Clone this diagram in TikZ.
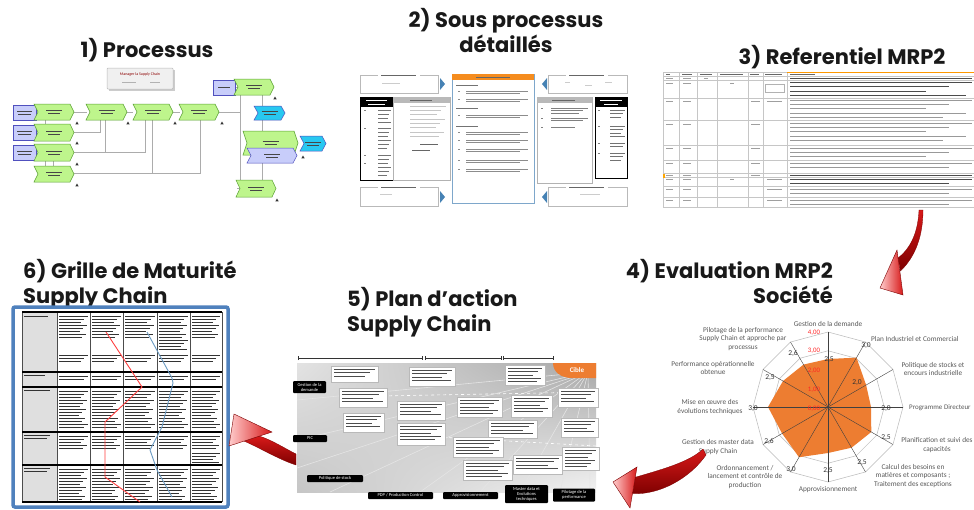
\documentclass[tikz,border=0pt]{standalone}
\usepackage{fontspec}
\setmainfont{Carlito}
\newfontfamily\titlefont{Poppins}
\usetikzlibrary{shadings,arrows.meta}
\definecolor{egreen}{RGB}{190,245,140}
\definecolor{egreenD}{RGB}{90,160,50}
\definecolor{eblue}{RGB}{200,205,250}
\definecolor{eblueD}{RGB}{80,80,190}
\definecolor{ecyan}{RGB}{40,200,240}
\definecolor{frameblue}{RGB}{79,129,189}
\definecolor{steel}{RGB}{70,130,180}
\definecolor{xorange}{RGB}{237,125,49}
\definecolor{aRed}{RGB}{215,25,25}
\definecolor{aDark}{RGB}{125,0,0}
\definecolor{hdr}{RGB}{245,140,30}
\newcommand\txl[6][]{%
  \pgfmathtruncatemacro\nn{max(0,floor(((#5)-(#3))/(#6)))}%
  \foreach \i in {0,...,\nn}{%
    \pgfmathsetmacro\yy{(#3)+\i*(#6)}%
    \pgfmathsetmacro\xe{(#4)-mod(\i*37,11)/11*((#4)-(#2))*0.35}%
    \draw[tbar,#1] ({#2},\yy) -- (\xe,\yy);}}
\newcommand\chev[5]{%
  \path[#1] (#2,#3) -- ({#4-4},#3) -- (#4,{(#3+#5)/2}) -- ({#4-4},#5) -- (#2,#5) -- ({#2+4},{(#3+#5)/2}) -- cycle;
  \draw[gray!55!black, line width=0.3pt] ({(#2+#4)/2-8},{(#3+#5)/2-1.5}) -- ({(#2+#4)/2+8},{(#3+#5)/2-1.5}) ({(#2+#4)/2-6},{(#3+#5)/2+1.5}) -- ({(#2+#4)/2+6},{(#3+#5)/2+1.5});}
\newcommand\warn[2]{\fill[black!80] ({#1-1.6},{#2+1.3}) -- ({#1+1.6},{#2+1.3}) -- (#1,{#2-1.5}) -- cycle;}
\begin{document}
\begin{tikzpicture}[x=1pt,y=-1pt,
  tbar/.style={gray!65, line width=0.6pt},
  ttl/.style={font=\titlefont\bfseries\fontsize{21}{25}\selectfont, inner sep=0pt, text=black!90},
  evt/.style={fill=egreen, draw=egreenD, line width=0.5pt},
  org/.style={fill=eblue, draw=eblueD, line width=0.5pt},
  cyn/.style={fill=ecyan, draw=eblueD, line width=0.5pt},
  wire/.style={draw=gray!65, line width=0.6pt},
  tgrid/.style={draw=gray!45, line width=0.4pt},
  pbox/.style={fill=white, draw=gray!55, line width=0.4pt},
  lbl/.style={fill=black, rounded corners=1pt, text=white, font=\fontsize{4.5}{5}\selectfont, align=center, inner sep=0.5pt},
  cat/.style={font=\fontsize{7.3}{8.6}\selectfont, text=black!65, align=center, inner sep=0pt},
  val/.style={font=\fontsize{7.5}{7.5}\selectfont, text=black!80, inner sep=0pt},
  scl/.style={font=\fontsize{6.8}{7}\selectfont, text=red!85, inner sep=0pt},
]
\useasboundingbox (0,0) rectangle (974,509);
\fill[white] (0,0) rectangle (974,509);

% ---------------- titles
\node[ttl] (t1) at (147,50) {1) Processus};
\node[ttl, align=center] (t2) at (506,30) {2) Sous processus\\détaillés};
\node[ttl] (t3) at (842,57) {3) Referentiel MRP2};
\node[ttl, align=right, anchor=east] (t4) at (833,281) {4) Evaluation MRP2\\Société};
\node[ttl, align=left, anchor=west] (t5) at (347,312) {5) Plan d’action\\Supply Chain};
\node[ttl, align=left, anchor=west] (t6) at (23,284) {6) Grille de Maturité\\Supply Chain};

% ---------------- 1) Processus
\draw[wire] (74,112) -- (87,112) (126,112) -- (133,112) (172,112) -- (180,112) (218,112) -- (240,112);
\draw[wire] (240,87) -- (240,188) (240,87) -- (236,87) (240,188) -- (237,188);
\draw[wire] (74,132) -- (100,132) -- (100,120);
\draw[wire] (74,152) -- (145,152) -- (145,120) (105,120) -- (105,152);
\draw[wire] (74,173) -- (200,173) -- (200,120) (152,120) -- (152,173);
\draw[wire] (45,120) -- (45,125) (45,160) -- (45,167) (53,160) -- (53,167);
\draw[wire] (262,95) -- (262,106) (262,120) -- (262,132) (262,163) -- (262,180);
\draw[fill=gray!40, draw=none] (109,70) rectangle (175,91);
\draw[fill=gray!12, draw=gray!55, line width=0.5pt, rounded corners=1pt] (107,68) rectangle (173,89);
\node[font=\fontsize{4}{4}\selectfont, text=red!55!black, inner sep=0pt] (mgr) at (140,74) {Manager la Supply Chain};
\draw[gray!60, line width=0.5pt] (122,82) -- (136,82) (150,82) -- (160,82);
\foreach \y in {105,125,145}{
  \draw[org] (13,\y) rectangle (36,{\y+15});
  \draw[gray!55!black, line width=0.3pt] (17,{\y+6}) -- (32,{\y+6}) (18,{\y+9}) -- (31,{\y+9});}
\chev{evt}{34}{104}{74}{120}
\chev{evt}{34}{124}{74}{141}
\chev{evt}{34}{144}{74}{161}
\chev{evt}{34}{166}{74}{182}
\chev{evt}{86}{104}{127}{120}
\chev{evt}{133}{104}{173}{120}
\chev{evt}{179}{104}{219}{120}
\draw[org] (213,80) rectangle (235,95);
\draw[gray!55!black, line width=0.3pt] (218,87.5) -- (230,87.5);
\chev{evt}{234}{79}{274}{95}
\chev{cyn}{254}{106}{285}{120}
\chev{evt}{243}{131}{298}{155}
\chev{org}{247}{148}{297}{163}
\chev{cyn}{300}{136}{326}{151}
\chev{evt}{236}{180}{276}{197}
\warn{77}{123}\warn{128}{123}\warn{175}{123}\warn{222}{123}
\warn{77}{143}\warn{77}{164}\warn{77}{185}\warn{275}{98}\warn{303}{157}\warn{277}{200}

% ---------------- 2) Sous processus
\draw[gray!55, line width=0.5pt] (360,75) rectangle (438,93) (548,75) rectangle (627,93)
  (360,187) rectangle (438,206) (548,187) rectangle (627,206);
\foreach \a/\b in {378/75,566/75,378/187,566/187}{
  \fill[white] (\a,{\b-2}) rectangle ({\a+42},{\b+2});
  \draw[black!60, line width=0.6pt] ({\a+3},\b) -- ({\a+38},\b);}
\draw[gray!40, line width=0.5pt] (382,83) -- (400,83) (565,82) -- (570,82) (585,85) -- (592,85) (605,82) -- (612,82)
  (380,194) -- (392,194) (580,194) -- (600,194);
\fill[steel] (440,78) -- (445,84) -- (440,90) -- cycle;
\fill[steel] (440,191) -- (445,197) -- (440,203) -- cycle;
\fill[steel] (547,78) -- (542,84) -- (547,90) -- cycle;
\fill[steel] (547,191) -- (542,197) -- (547,203) -- cycle;
\draw[fill=white, draw=steel!70, line width=0.6pt] (452,74) rectangle (534,203);
\fill[hdr] (452,74) rectangle (534,80);
\draw[black!60, line width=0.5pt] (476,77) -- (510,77);
\foreach \y in {85,108,126}{\draw[black!55, line width=0.5pt] (456,\y) -- (478,\y);}
\foreach \y in {91,99,115,132,140,149,160,169}{
  \draw[black!45, line width=0.4pt] (458,\y) -- (460,\y);
  \txl[black!45, line width=0.4pt]{466}{\y}{528}{\y+2.5}{2.5}}
\draw[black, line width=0.8pt, fill=white] (360,97) rectangle (393,180);
\fill[black] (360,97) rectangle (393,107);
\draw[white, line width=0.5pt] (366,100) -- (387,100) (368,104) -- (385,104);
\foreach \y in {110,128,155,163}{\draw[black!50, line width=0.5pt] (364,\y) -- (366,\y);}
\txl[black!55, line width=0.5pt]{378}{110}{391}{122}{4}
\txl[black!55, line width=0.5pt]{378}{128}{391}{150}{4}
\txl[black!55, line width=0.5pt]{378}{155}{391}{176}{4}
\draw[gray!60, fill=white, line width=0.5pt] (393,97) rectangle (450,180);
\fill[gray!55] (393,97) rectangle (450,103);
\draw[black!60, line width=0.5pt] (410,100) -- (432,100);
\txl[gray!45, line width=0.4pt]{410}{106}{446}{140}{4.3}
\draw[black!60, line width=0.5pt] (420,144) -- (438,144) (412,150) -- (430,150);
\draw[gray!60, fill=white, line width=0.5pt] (537,97) rectangle (592,183);
\fill[gray!55] (537,97) rectangle (592,103);
\draw[black!60, line width=0.5pt] (552,100) -- (575,100);
\foreach \y in {108,118,127}{\draw[black!50, line width=0.4pt] (541,\y) -- (543,\y);}
\txl[black!50, line width=0.4pt]{551}{108}{588}{114}{2.5}
\txl[black!50, line width=0.4pt]{551}{118}{588}{121}{2.5}
\txl[black!50, line width=0.4pt]{551}{127}{575}{127}{2.5}
\draw[black, line width=0.8pt, fill=white] (595,97) rectangle (627,178);
\fill[black] (595,97) rectangle (627,107);
\draw[white, line width=0.5pt] (600,100) -- (622,100) (604,104) -- (618,104);
\foreach \y in {110,126,143,153}{\draw[black!50, line width=0.5pt] (598,\y) -- (600,\y);}
\txl[black!55, line width=0.5pt]{610}{110}{625}{120}{3.5}
\txl[black!55, line width=0.5pt]{610}{126}{625}{138}{3.5}
\txl[black!55, line width=0.5pt]{610}{143}{625}{148}{3.5}
\txl[black!55, line width=0.5pt]{610}{153}{625}{162}{3.5}

% ---------------- 3) Referentiel MRP2
\foreach \x in {663,679,697,717,748,763,787}{\draw[tgrid] (\x,72) -- (\x,207);}
\foreach \y in {72,76,80,98,120,145,160,173,177,186,197,207}{\draw[tgrid] (663,\y) -- (974,\y);}
\draw[orange!80!yellow, line width=0.8pt] (787,72) -- (974,72);
\draw[black!60, line width=0.6pt] (666,74) -- (670,74) (682,74) -- (692,74) (700,74) -- (712,74) (720,74) -- (743,74)
  (750,74) -- (759,74) (765,74) -- (782,74) (790,74) -- (815,74);
\txl[black!70, line width=0.9pt]{790}{78.2}{972}{78.2}{4}
\txl[black!70, line width=0.9pt]{790}{82.5}{972}{96}{4.4}
\txl[gray!80, line width=0.9pt]{790}{100}{972}{118}{4.4}
\txl[gray!80, line width=0.9pt]{790}{123}{972}{143}{4.4}
\txl[gray!80, line width=0.9pt]{790}{148}{972}{158}{4.4}
\txl[gray!80, line width=0.9pt]{790}{163}{972}{171}{4.4}
\txl[black!70, line width=0.9pt]{790}{175}{972}{175}{4}
\txl[black!70, line width=0.9pt]{790}{179}{972}{184}{4.4}
\txl[gray!80, line width=0.9pt]{790}{189}{972}{195}{4.4}
\txl[gray!80, line width=0.9pt]{790}{200}{972}{205}{4.4}
\foreach \y in {78.2,83,101,124,148,163,175,179,189,200}{
  \draw[gray!75, line width=0.6pt] (666,\y) -- (673,\y) (683,\y) -- (691,\y);}
\foreach \y in {101,124,148,163,175}{\draw[gray!75, line width=0.6pt] (751,\y) -- (760,\y);}
\foreach \y in {101,179,189,200}{\draw[gray!75, line width=0.6pt] (767,\y) -- (782,\y);}
\draw[gray!75, line width=0.6pt] (704,78.2) -- (708,78.2) (730,83) -- (734,83) (730,179) -- (734,179);
\draw[gray!60, line width=0.4pt] (765,84) rectangle (784,92);
\fill[orange!70!yellow] (663,174) rectangle (665,178);

% ---------------- arrow 3 -> 4
\shade[top color=aRed, bottom color=aDark, draw=aDark, line width=0.3pt]
  (900.5,271) .. controls (916,256) and (923,235) .. (923,210) -- (919,210)
  .. controls (918,232) and (911,248) .. (898,258) -- cycle;
\shade[left color=red!20!white, right color=aRed, draw=aDark, line width=0.4pt]
  (880,288) -- (897,250) -- (903,295) -- cycle;

% ---------------- 4) radar chart
\begin{scope}[shift={(828,407)}]
  \foreach \r in {18.75,37.5,56.25,75}{
    \draw[gray!55, line width=0.5pt] (90:\r pt) \foreach \k in {1,...,11}{ -- (90-30*\k:\r pt)} -- cycle;}
  \fill[xorange] (90:48pt) -- (60:57pt) -- (30:44pt) -- (0:43pt) -- (-30:50pt) -- (-60:47pt)
    -- (-90:46pt) -- (-120:58pt) -- (-150:53pt) -- (180:60pt) -- (150:52pt) -- (120:49pt) -- cycle;
  \foreach \k in {0,...,11}{\draw[gray!50!black, line width=0.4pt] (0,0) -- (90-30*\k:75pt);}
\end{scope}
\node[scl] (s4) at (814,333) {4,00};
\node[scl] (s3) at (814,351) {3,00};
\node[scl] (s2) at (814,371) {2,00};
\node[scl] (s1) at (814,390) {1,00};
\node[scl] (s0) at (814,409) {0,00};
\node[val] (v1) at (829,360) {2,5};
\node[val] (v2) at (866,346) {3,0};
\node[val] (v3) at (857,383) {2,0};
\node[val] (v4) at (886,409) {2,0};
\node[val] (v5) at (886,438) {2,5};
\node[val] (v6) at (862,463) {2,5};
\node[val] (v7) at (828,471) {2,5};
\node[val] (v8) at (791,470) {3,0};
\node[val] (v9) at (769,441) {2,6};
\node[val] (v10) at (753,409) {3,0};
\node[val] (v11) at (770,378) {2,5};
\node[val] (v12) at (793,353) {2,6};
\node[cat] (c1) at (828,324) {Gestion de la demande};
\node[cat, anchor=west] (c2) at (871,339) {Plan Industriel et Commercial};
\node[cat] (c3) at (933,369) {Politique de stocks et\\encours industrielle};
\node[cat, anchor=west, font=\fontsize{7}{8}\selectfont] (c4) at (909,408) {Programme Directeur};
\node[cat] (c5) at (937,445) {Planification et suivi des\\capacités};
\node[cat] (c6) at (913,476) {Calcul des besoins en\\matières et composants ;\\Traitement des exceptions};
\node[cat] (c7) at (828,490) {Approvisionnement};
\node[cat] (c8) at (745,477) {Ordonnancement /\\lancement et contrôle de\\production};
\node[cat] (c9) at (718,447) {Gestion des master data\\Supply Chain};
\node[cat] (c10) at (710,407) {Mise en œuvre des\\évolutions techniques};
\node[cat] (c11) at (713,368) {Performance opérationnelle\\obtenue};
\node[cat] (c12) at (743,339) {Pilotage de la performance\\Supply Chain et approche par\\processus};

% ---------------- arrow 4 -> 5
\shade[top color=aRed, bottom color=aDark, draw=aDark, line width=0.3pt]
  (635.25,477.25) .. controls (660,470) and (690,462) .. (703,449) -- (706,455)
  .. controls (690,478) and (660,495) .. (632.45,493.65) -- cycle;
\shade[left color=red!20!white, right color=aRed, draw=aDark, line width=0.4pt]
  (613,482) -- (637,467) -- (630,508) -- cycle;

% ---------------- 6) Grille de maturite
\draw[line width=3.5pt, draw=frameblue, fill=white, rounded corners=2pt] (13,307) rectangle (228,507);
\fill[gray!25] (22,312) rectangle (57,502);
\txl[black!80, line width=0.9pt]{24}{316}{48}{316}{3}
\txl[black!80, line width=0.9pt]{24}{375}{45}{375}{3}
\txl[black!80, line width=0.9pt]{24}{390}{50}{390}{3}
\txl[black!80, line width=0.9pt]{24}{435}{50}{438}{3}
\txl[black!80, line width=0.9pt]{24}{468}{50}{471}{3}
\foreach \xa/\xb in {57/90,90/123,123/157,157/190,190/222}{
  \txl[black!80, line width=0.9pt]{\xa+2}{316}{\xb-2}{337}{3}
  \txl[black!80, line width=0.9pt]{\xa+2}{355}{\xb-2}{361}{3}
  \txl[black!80, line width=0.9pt]{\xa+2}{376}{\xb-2}{379}{3}
  \txl[black!80, line width=0.9pt]{\xa+2}{391}{\xb-2}{428}{3}
  \txl[black!80, line width=0.9pt]{\xa+2}{436}{\xb-2}{450}{3}
  \txl[black!80, line width=0.9pt]{\xa+2}{469}{\xb-2}{499}{3}}
\txl[black!80, line width=0.9pt]{159}{340}{188}{349}{3}
\txl[black!80, line width=0.9pt]{192}{453}{220}{462}{3}
\foreach \x in {22,57,90,123,157,190,222}{\draw[black!70, line width=0.5pt] (\x,312) -- (\x,502);}
\foreach \y in {312,372,387,432,465,502}{\draw[black, line width=1.1pt] (22,\y) -- (222,\y);}
\draw[red!75, line width=0.9pt] (106,332) -- (142,387) -- (105,422) -- (105,477) -- (140,502);
\draw[steel!80, line width=0.9pt] (147,332) -- (172,378) -- (173,383) -- (162,427) -- (150,450) -- (157,470) -- (172,497);

% ---------------- arrow 5 -> 6
\shade[top color=aRed, bottom color=aDark, draw=aDark, line width=0.3pt]
  (259,436) .. controls (272,440) and (284,448) .. (296,454) -- (296,465)
  .. controls (280,460) and (260,448) .. (244,441) -- cycle;
\shade[left color=red!20!white, right color=aRed, draw=aDark, line width=0.4pt]
  (234,414) -- (272,432) -- (229,446) -- cycle;

% ---------------- 5) Plan d'action
\shade[upper left=gray!22, upper right=gray!70, lower left=gray!45, lower right=gray!10] (297,363) rectangle (596,492);
\draw[gray!40!black, line width=0.5pt, {Bar[width=4pt]}-{Bar[width=4pt]}] (298,358) -- (422,358);
\draw[gray!40!black, line width=0.5pt, {Bar[width=4pt]}-{Bar[width=4pt]}] (425,358) -- (501,358);
\draw[gray!40!black, line width=0.5pt, {Bar[width=4pt]}-{Bar[width=4pt]}] (503,358) -- (553,358);
\foreach \px/\py in {297/400,297/440,297/468,330/492,420/492,480/492,520/492,560/492,590/492}{
  \draw[white!80!gray, line width=0.6pt] (588,372) -- (\px,\py);}
\draw[white, line width=0.6pt, dashed] (596,446) -- (420,436) (596,392) -- (380,396);
\fill[xorange] (553,363) -- (596,363) -- (596,378) -- (572,378) .. controls (561,378) and (553,372) .. (553,363) -- cycle;
\node[font=\bfseries\fontsize{7}{7}\selectfont, text=white, inner sep=0pt] (cible) at (577,370) {Cible};
\foreach \a/\b/\c/\d in {331/366/378/382, 339/388/387/407, 343/413/384/432, 409/367/455/386,
  397/401/445/420, 397/423/445/445, 505/365/545/385, 457/397/502/417, 511/395/552/417,
  488/420/537/438, 453/437/503/457, 463/460/512/480, 513/455/562/474, 558/388/598/407,
  561/418/598/437, 562/447/599/470}{
  \draw[pbox] (\a,\b) rectangle (\c,\d);
  \txl[black!70, line width=0.7pt]{\a+3}{\b+3.5}{\c-3}{\d-3}{3.2}}
\node[lbl, minimum width=33pt, minimum height=12pt] (gd) at (309.5,387) {Gestion de la\\demande};
\node[lbl, minimum width=34pt, minimum height=7pt] (pic) at (310,438.5) {PIC};
\node[lbl, minimum width=56pt, minimum height=7pt] (pds) at (335,478.5) {Politique de stock};
\node[lbl, minimum width=65pt, minimum height=7pt] (pdp) at (400.5,495.5) {PDP / Production Control};
\node[lbl, minimum width=55pt, minimum height=7pt] (app) at (470.5,495.5) {Approvisionnement};
\node[lbl, minimum width=43pt, minimum height=18pt] (mde) at (526.5,494) {Master data et\\Evolutions\\techniques};
\node[lbl, minimum width=42pt, minimum height=13pt] (pil) at (574,495) {Pilotage de la\\performance};
\end{tikzpicture}
\end{document}
